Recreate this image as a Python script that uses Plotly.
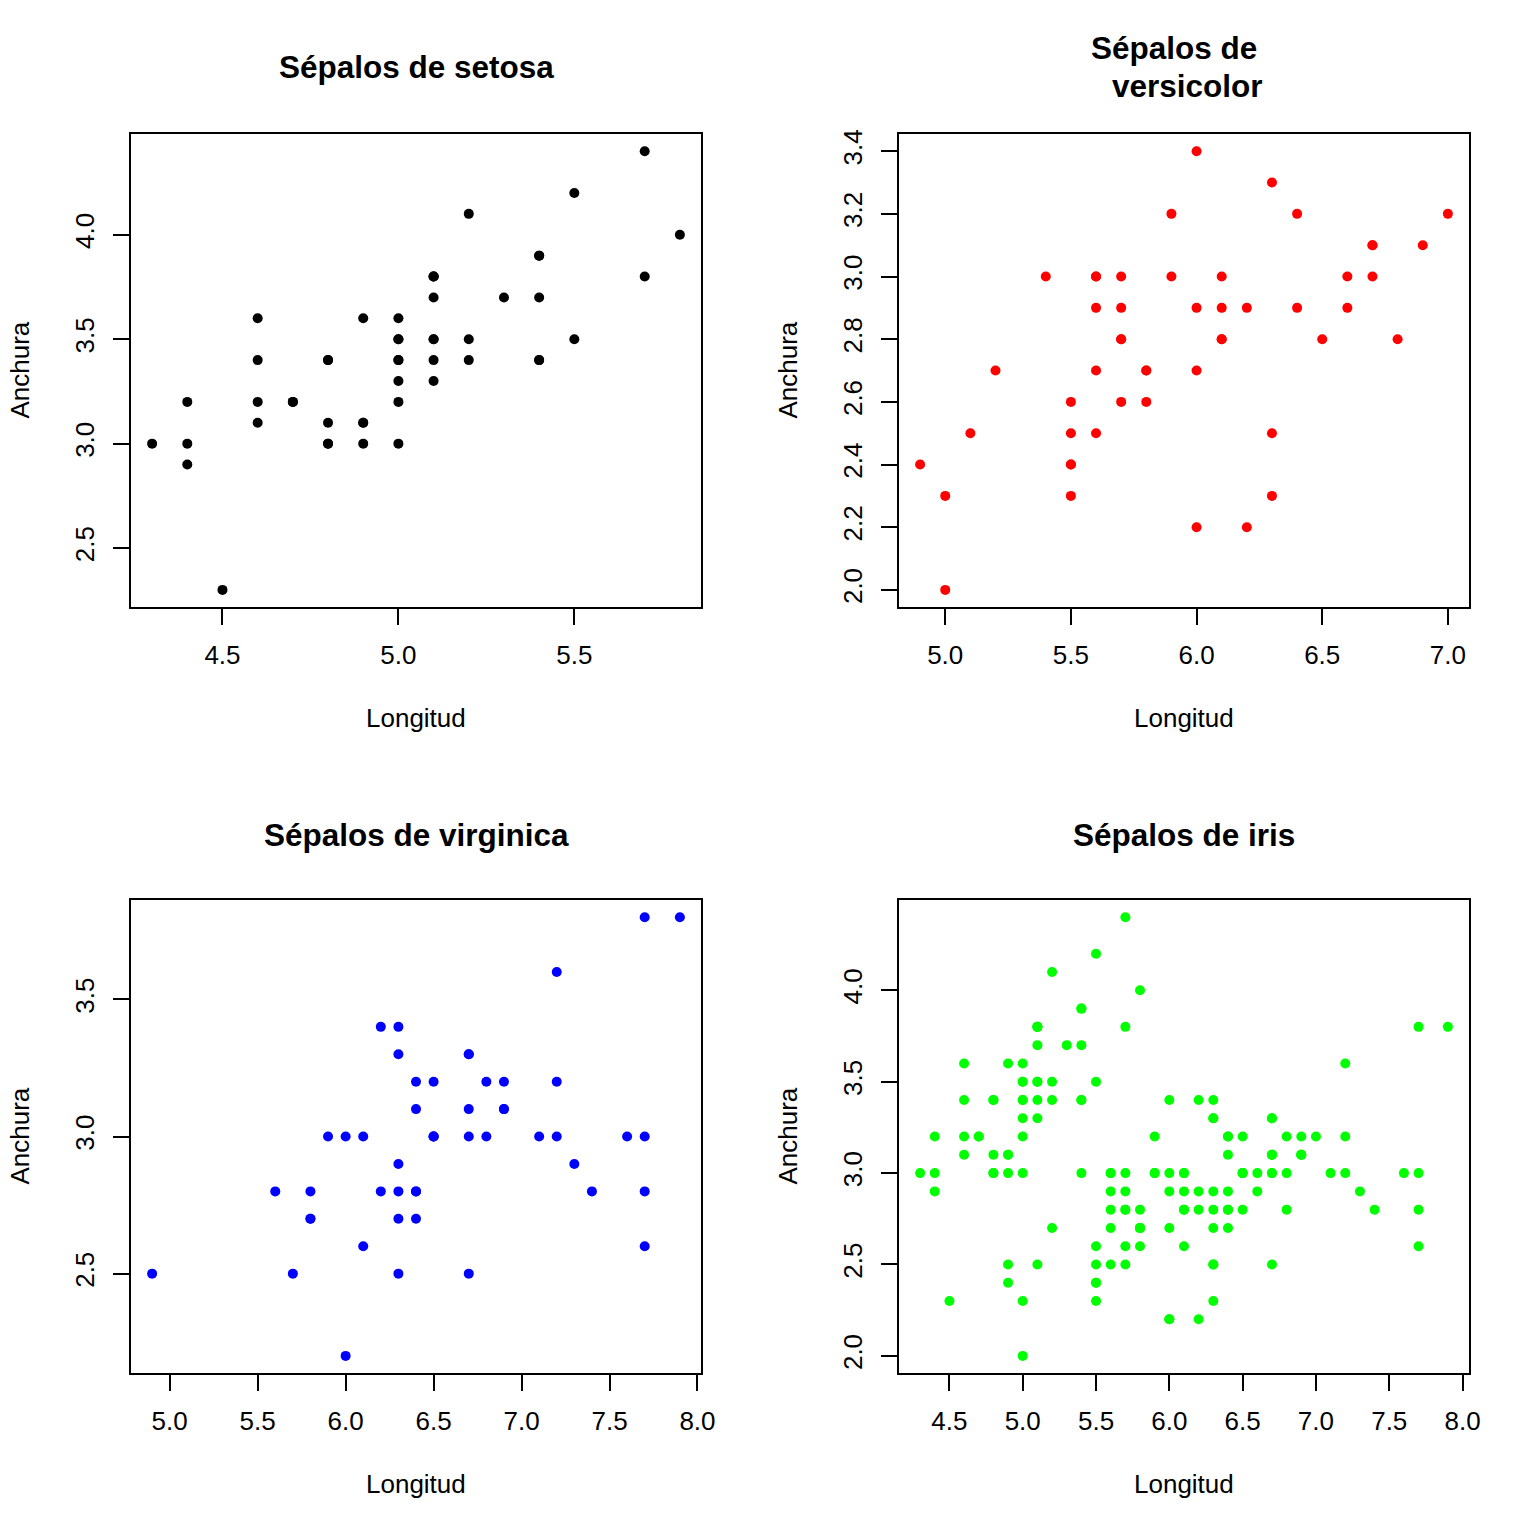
import plotly.graph_objects as go

# Iris sepal data (R's iris dataset)
setosa_len = [5.1,4.9,4.7,4.6,5.0,5.4,4.6,5.0,4.4,4.9,5.4,4.8,4.8,4.3,5.8,5.7,5.4,5.1,5.7,5.1,
              5.4,5.1,4.6,5.1,4.8,5.0,5.0,5.2,5.2,4.7,4.8,5.4,5.2,5.5,4.9,5.0,5.5,4.9,4.4,5.1,
              5.0,4.5,4.4,5.0,5.1,4.8,5.1,4.6,5.3,5.0]
setosa_wid = [3.5,3.0,3.2,3.1,3.6,3.9,3.4,3.4,2.9,3.1,3.7,3.4,3.0,3.0,4.0,4.4,3.9,3.5,3.8,3.8,
              3.4,3.7,3.6,3.3,3.4,3.0,3.4,3.5,3.4,3.2,3.1,3.4,4.1,4.2,3.1,3.2,3.5,3.6,3.0,3.4,
              3.5,2.3,3.2,3.5,3.8,3.0,3.8,3.2,3.7,3.3]
versicolor_len = [7.0,6.4,6.9,5.5,6.5,5.7,6.3,4.9,6.6,5.2,5.0,5.9,6.0,6.1,5.6,6.7,5.6,5.8,6.2,5.6,
                  5.9,6.1,6.3,6.1,6.4,6.6,6.8,6.7,6.0,5.7,5.5,5.5,5.8,6.0,5.4,6.0,6.7,6.3,5.6,5.5,
                  5.5,6.1,5.8,5.0,5.6,5.7,5.7,6.2,5.1,5.7]
versicolor_wid = [3.2,3.2,3.1,2.3,2.8,2.8,3.3,2.4,2.9,2.7,2.0,3.0,2.2,2.9,2.9,3.1,3.0,2.7,2.2,2.5,
                  3.2,2.8,2.5,2.8,2.9,3.0,2.8,3.0,2.9,2.6,2.4,2.4,2.7,2.7,3.0,3.4,3.1,2.3,3.0,2.5,
                  2.6,3.0,2.6,2.3,2.7,3.0,2.9,2.9,2.5,2.8]
virginica_len = [6.3,5.8,7.1,6.3,6.5,7.6,4.9,7.3,6.7,7.2,6.5,6.4,6.8,5.7,5.8,6.4,6.5,7.7,7.7,6.0,
                 6.9,5.6,7.7,6.3,6.7,7.2,6.2,6.1,6.4,7.2,7.4,7.9,6.4,6.3,6.1,7.7,6.3,6.4,6.0,6.9,
                 6.7,6.9,5.8,6.8,6.7,6.7,6.3,6.5,6.2,5.9]
virginica_wid = [3.3,2.7,3.0,2.9,3.0,3.0,2.5,2.9,2.5,3.6,3.2,2.7,3.0,2.5,2.8,3.2,3.0,3.8,2.6,2.2,
                 3.2,2.8,2.8,2.7,3.3,3.2,2.8,3.0,2.8,3.0,2.8,3.8,2.8,2.8,2.6,3.0,3.4,3.1,3.0,3.1,
                 3.1,3.1,2.7,3.2,3.3,3.0,2.5,3.0,3.4,3.0]
iris_len = setosa_len + versicolor_len + virginica_len
iris_wid = setosa_wid + versicolor_wid + virginica_wid

# title lines per panel (versicolor title wraps onto two lines)
titles = [["Sépalos de setosa"], ["Sépalos de", "versicolor"],
          ["Sépalos de virginica"], ["Sépalos de iris"]]
colors = ["black", "#ff0000", "#0000ff", "#00ff00"]
x_ticks = [[4.5, 5.0, 5.5], [5.0, 5.5, 6.0, 6.5, 7.0],
           [5.0, 5.5, 6.0, 6.5, 7.0, 7.5, 8.0], [4.5, 5.0, 5.5, 6.0, 6.5, 7.0, 7.5, 8.0]]
y_ticks = [[2.5, 3.0, 3.5, 4.0], [2.0, 2.2, 2.4, 2.6, 2.8, 3.0, 3.2, 3.4],
           [2.5, 3.0, 3.5], [2.0, 2.5, 3.0, 3.5, 4.0]]
data = [(setosa_len, setosa_wid), (versicolor_len, versicolor_wid),
        (virginica_len, virginica_wid), (iris_len, iris_wid)]

W = H = 1536
XW = 1521  # horizontal reference width used for placing things
boxes = [(131, 701, 130, 605), (899, 1469, 130, 605), (131, 701, 898, 1373), (899, 1469, 898, 1373)]
FONT = "Liberation Sans, Arial, Helvetica, sans-serif"
FS = 26
TFS = 31.5

def rng(v):
    lo, hi = min(v), max(v)
    e = (hi - lo) * 0.04
    return [lo - e, hi + e]

fig = go.Figure()
annotations = []
layout = {}
for i, ((xs, ys), (x0, x1, y0, y1)) in enumerate(zip(data, boxes)):
    n = "" if i == 0 else str(i + 1)
    fig.add_trace(go.Scatter(x=xs, y=ys, mode="markers",
                             marker=dict(color=colors[i], size=10, line=dict(width=0)),
                             xaxis="x" + n, yaxis="y" + n, showlegend=False))
    common = dict(showgrid=False, zeroline=False, showline=True, mirror=True,
                  linecolor="black", linewidth=2, ticks="outside", ticklen=16,
                  tickwidth=2, tickcolor="black",
                  tickfont=dict(family=FONT, size=FS, color="black"),
                  tickformat=".1f")
    layout["xaxis" + n] = dict(common, domain=[x0 / XW, x1 / XW], range=rng(xs),
                               tickvals=x_ticks[i], anchor="y" + n, ticklabelstandoff=7)
    layout["yaxis" + n] = dict(common, domain=[1 - y1 / H, 1 - y0 / H], range=rng(ys),
                               tickvals=y_ticks[i], anchor="x" + n, tickangle=-90,
                               ticklabelstandoff=9)
    cx = (x0 + x1) / 2
    cy = (y0 + y1) / 2
    lines = titles[i]
    if len(lines) == 1:
        pos = [(cx, y0 - (67 if i < 2 else 65))]
    else:
        pos = [(cx - 10, y0 - 86), (cx + 3, y0 - 48)]
    for txt, (tx, ty) in zip(lines, pos):
        annotations.append(dict(text="<b>" + txt + "</b>", x=tx / XW, y=1 - ty / H,
                                xref="paper", yref="paper", showarrow=False,
                                xanchor="center", yanchor="middle",
                                font=dict(family=FONT, size=TFS, color="black")))
    annotations.append(dict(text="Longitud", x=cx / XW, y=1 - (y1 + 111) / H,
                            xref="paper", yref="paper", showarrow=False,
                            xanchor="center", yanchor="middle",
                            font=dict(family=FONT, size=FS, color="black")))
    annotations.append(dict(text="Anchura", x=(x0 - 111) / XW, y=1 - cy / H,
                            xref="paper", yref="paper", showarrow=False, textangle=-90,
                            xanchor="center", yanchor="middle",
                            font=dict(family=FONT, size=FS, color="black")))

fig.update_layout(width=W, height=H, autosize=False, margin=dict(l=0, r=0, t=0, b=0),
                  paper_bgcolor="white", plot_bgcolor="white",
                  annotations=annotations, **layout)
fig.write_html("out.html",
               config={"responsive": False, "displayModeBar": False},
               post_script="document.body.style.margin='0px';document.body.style.overflow='hidden';")
